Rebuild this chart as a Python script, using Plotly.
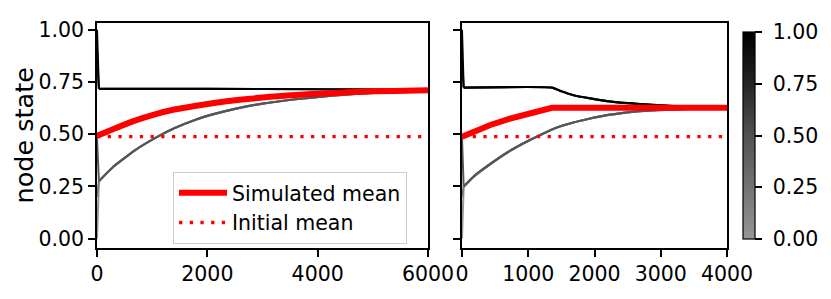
import plotly.graph_objects as go

# ---------------- data ----------------
# Left panel (t up to 6000)
left_red_t = [0, 300, 700, 1050, 1400, 1800, 2150, 2500, 3000, 3600, 4200, 4800, 5400, 6000]
left_red_v = [0.492, 0.525, 0.566, 0.595, 0.618, 0.636, 0.650, 0.662, 0.675, 0.687, 0.696, 0.703, 0.707, 0.710]
left_low_t = [35, 300, 700, 1100, 1400, 1800, 2150, 2500, 3000, 3600, 4200, 4800, 5400, 6000]
left_low_v = [0.275, 0.345, 0.425, 0.488, 0.528, 0.570, 0.598, 0.621, 0.646, 0.667, 0.683, 0.695, 0.703, 0.709]
left_high_t = [35, 2000, 4000, 6000]
left_high_v = [0.717, 0.717, 0.715, 0.712]
left_init_mean = 0.488

# Right panel (t up to 4000)
right_red_t = [0, 200, 427, 700, 929, 1150, 1357, 4000]
right_red_v = [0.488, 0.516, 0.544, 0.572, 0.593, 0.611, 0.626, 0.626]
right_low_t = [25, 175, 427, 678, 929, 1181, 1432, 1683, 1935, 2186, 2437, 2688, 2940, 3191, 3500, 4000]
right_low_v = [0.249, 0.297, 0.357, 0.411, 0.456, 0.496, 0.532, 0.556, 0.575, 0.591, 0.602, 0.610, 0.615, 0.618, 0.622, 0.625]
right_high_t = [25, 1357, 1500, 1683, 1935, 2186, 2437, 2688, 2940, 3191, 3500, 4000]
right_high_v = [0.723, 0.723, 0.705, 0.686, 0.671, 0.658, 0.650, 0.644, 0.639, 0.634, 0.629, 0.627]
right_init_mean = 0.488

# initial node states (colour = initial state)
low_nodes = [0.0, 0.2, 0.48]
high_nodes = [0.85, 1.0]

left_xticks = [0, 2000, 4000, 6000]
right_xticks = [0, 1000, 2000, 3000, 4000]
yticks = [0.0, 0.25, 0.5, 0.75, 1.0]
cbar_ticks = [0.0, 0.25, 0.5, 0.75, 1.0]

# ---------------- styling ----------------
cscale_hex = ["#969696", "#737373", "#525252", "#252525", "#000000"]
colorscale = [[i / 4, c] for i, c in enumerate(cscale_hex)]


def cmap(v):
    pos = v * 4
    i = min(int(pos), 3)
    f = pos - i
    a = cscale_hex[i]
    b = cscale_hex[i + 1]
    ca = [int(a[k:k + 2], 16) for k in (1, 3, 5)]
    cb = [int(b[k:k + 2], 16) for k in (1, 3, 5)]
    c = [round(ca[k] + (cb[k] - ca[k]) * f) for k in range(3)]
    return "rgb(%d,%d,%d)" % tuple(c)


FONT = "DejaVu Sans"
FS = 20.5
OFF = 8  # page body margin
W, H = 831 - OFF, 299 - OFF
# target plot area in page pixels: x 97..727, y 23..248
ML = 97 - OFF
MR = W - (727 - OFF)
MT = 23 - OFF
MB = H - (248 - OFF)
PW = W - ML - MR
PH = H - MT - MB


def px_x(p):
    return (p - 97) / PW


def px_y(p):
    return (248 - p) / PH


fig = go.Figure()


def add_panel(xa, ya, low_t, low_v, high_t, high_v, red_t, red_v, init_mean, tmax, legend, red_shape):
    for nodes, ct, cv in ((low_nodes, low_t, low_v), (high_nodes, high_t, high_v)):
        for n in nodes:
            fig.add_trace(go.Scatter(x=[0, ct[0]], y=[n, cv[0]], mode="lines",
                                     line=dict(color=cmap(n), width=2),
                                     xaxis=xa, yaxis=ya, showlegend=False, hoverinfo="skip"))
        for n in nodes:
            fig.add_trace(go.Scatter(x=ct, y=cv, mode="lines",
                                     line=dict(color=cmap(n), width=2.2, shape="spline", smoothing=0.4),
                                     xaxis=xa, yaxis=ya, showlegend=False, hoverinfo="skip"))
    fig.add_trace(go.Scatter(x=red_t, y=red_v, mode="lines", name="Simulated mean",
                             line=dict(color="red", width=6, shape=red_shape),
                             xaxis=xa, yaxis=ya, showlegend=legend))
    fig.add_trace(go.Scatter(x=[0, tmax], y=[init_mean, init_mean], mode="lines", name="Initial mean",
                             line=dict(color="red", width=3.3, dash="3.3px,7.4px"),
                             xaxis=xa, yaxis=ya, showlegend=legend))


add_panel("x", "y", left_low_t, left_low_v, left_high_t, left_high_v,
          left_red_t, left_red_v, left_init_mean, 6000, True, "spline")
add_panel("x2", "y2", right_low_t, right_low_v, right_high_t, right_high_v,
          right_red_t, right_red_v, right_init_mean, 4000, False, "linear")

# colorbar carrier
fig.add_trace(go.Scatter(
    x=[0, 0], y=[0.5, 0.5], mode="markers", xaxis="x2", yaxis="y2", showlegend=False, hoverinfo="skip",
    marker=dict(size=1, opacity=0, color=[0, 1], cmin=0, cmax=1, colorscale=colorscale, showscale=True,
                colorbar=dict(x=px_x(743), xanchor="left", xpad=0, y=0.5, yanchor="middle",
                              len=227, lenmode="pixels", thickness=12, thicknessmode="pixels",
                              outlinecolor="black", outlinewidth=1.2,
                              tickvals=cbar_ticks, ticktext=[" %.2f" % v for v in cbar_ticks],
                              ticks="outside", ticklen=7, tickwidth=1.5, tickcolor="black",
                              tickfont=dict(family=FONT, size=FS, color="black")))))

axis_common = dict(showline=True, linecolor="black", linewidth=1.5, mirror=True,
                   ticks="outside", ticklen=7, tickwidth=1.5, tickcolor="black",
                   showgrid=False, zeroline=False,
                   tickfont=dict(family=FONT, size=FS, color="black"))

fig.update_layout(
    width=W, height=H,
    margin=dict(l=ML, r=MR, t=MT, b=MB, pad=0, autoexpand=False),
    plot_bgcolor="white", paper_bgcolor="white",
    font=dict(family=FONT, size=FS, color="black"),
    xaxis=dict(domain=[0, px_x(428)], range=[0, 6000], tickvals=left_xticks,
               ticktext=[str(v) for v in left_xticks], **axis_common),
    xaxis2=dict(domain=[px_x(462), 1], range=[0, 4000], tickvals=right_xticks,
                ticktext=[str(v) for v in right_xticks], anchor="y2", **axis_common),
    yaxis=dict(range=[-0.045, 1.032], tickvals=yticks, ticktext=["%.2f" % v for v in yticks],
               **axis_common),
    yaxis2=dict(range=[-0.045, 1.032], tickvals=yticks, showticklabels=False, anchor="x2",
                **axis_common),
    legend=dict(x=px_x(173), y=px_y(172), xanchor="left", yanchor="top",
                itemwidth=48, tracegroupgap=0,
                bgcolor="rgba(255,255,255,0.8)", bordercolor="#cccccc", borderwidth=1,
                font=dict(family=FONT, size=FS, color="black")),
    annotations=[dict(text="node state", xref="paper", yref="paper",
                      x=px_x(23), y=0.5, xanchor="center", yanchor="middle",
                      textangle=-90, showarrow=False,
                      font=dict(family=FONT, size=25.5, color="black"))],
)

fig.write_html("out.html")
